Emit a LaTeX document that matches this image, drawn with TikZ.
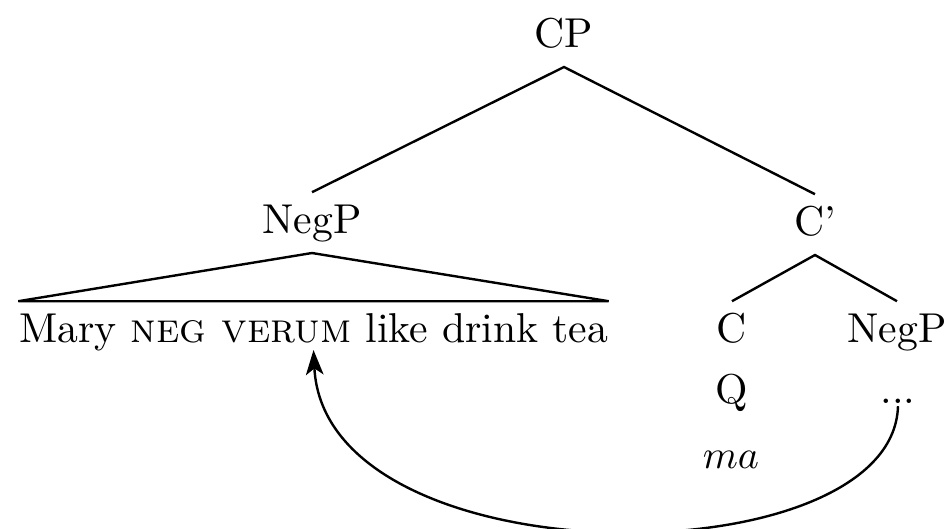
\documentclass[tikz,border=0pt]{standalone}
\usetikzlibrary{arrows.meta}
\begin{document}
\begin{tikzpicture}[x=0.25pt, y=-0.25pt,
    lbl/.style={inner sep=0pt, outer ysep=3pt, text height=7.2pt, text depth=2pt, anchor=base, font=\fontsize{10.43}{12.5}\selectfont},
    branch/.style={line width=0.6pt},
    move/.style={line width=0.6pt, -{Stealth[length=6.2pt, width=4.4pt, inset=1.6pt]}}]
  \useasboundingbox (0,0) rectangle (946,528);

  % tree labels
  \node[lbl] (cp)    at (564,47)  {CP};
  \node[lbl] (negp)  at (312,233) {NegP};
  \node[lbl] (cbar)  at (815,235) {C'};
  \node[lbl] (sent)  at (313.5,342) {Mary \textsc{neg verum} like drink tea};
  \node[lbl] (c)     at (732,342) {C};
  \node[lbl] (negp2) at (897,342) {NegP};
  \node[lbl] (q)     at (732,403) {Q};
  \node[lbl] (dots)  at (898,403) {...};
  \node[lbl] (ma)    at (731,468) {$ma$};

  % branches
  \draw[branch] (negp.north) -- (cp.south) -- (cbar.north);
  \draw[branch] (c.north) -- (cbar.south) -- (negp2.north);
  \draw[branch] (sent.north west) -- (negp.south) -- (sent.north east) -- cycle;

  % movement arrow
  \coordinate (src) at ([yshift=-0.8pt]dots.base);
  \coordinate (tgt) at ([yshift=-2pt]sent.base);
  \draw[move] (src) .. controls (893,580) and (325,582) .. (tgt);
\end{tikzpicture}
\end{document}
